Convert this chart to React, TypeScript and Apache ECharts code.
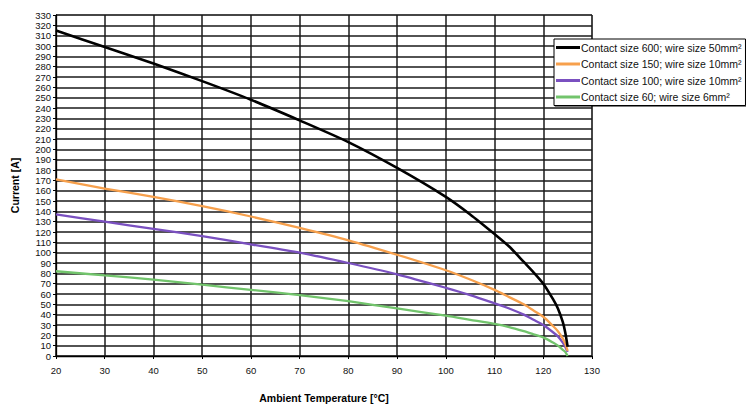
import React, { useEffect, useRef } from "react";
import * as echarts from "echarts";

const temps = [20, 30, 40, 50, 60, 70, 80, 90, 100, 105, 110, 113, 116, 118, 120, 122, 123, 124, 124.5, 125];
const size600 = [315, 299, 283, 266, 248, 228, 207, 182, 154, 137, 118, 106, 91, 81, 70, 55, 46, 33, 23, 9];
const size150 = [171, 162, 154, 145, 135, 124, 112, 98, 83, 74, 64, 57, 50, 44, 38, 29, 24, 17, 12, 5];
const size100 = [137, 130, 123, 116, 108, 100, 90, 79, 66, 59, 51, 46, 40, 35, 30, 23, 19, 13, 9, 4];
const size60 = [82, 78, 74, 69, 64, 59, 53, 46, 39, 35, 31, 28, 24, 21, 18, 13, 10, 6, 4, 0];

const seriesNames = [
  "Contact size 600; wire size 50mm²",
  "Contact size 150; wire size 10mm²",
  "Contact size 100; wire size 10mm²",
  "Contact size 60; wire size 6mm²",
];
const seriesColors = ["#000000", "#F7A04C", "#7A50C0", "#72C46C"];
const seriesWidths = [2.6, 2.3, 2.3, 2.3];
const seriesValues = [size600, size150, size100, size60];

export default function App() {
  const ref = useRef<HTMLDivElement>(null);
  useEffect(() => {
    document.body.style.margin = "0";
    const chart = echarts.init(ref.current!, null, { renderer: "svg" });
    const font = "Liberation Sans, Arial, sans-serif";
    chart.setOption({
      animation: false,
      backgroundColor: "#ffffff",
      grid: {
        left: 56,
        right: 154,
        top: 15,
        bottom: 44,
        show: true,
        borderColor: "#999999",
        borderWidth: 1,
      },
      legend: {
        orient: "vertical",
        left: 554,
        top: 39,
        padding: [3, 4, 3, 2],
        itemGap: 5.5,
        itemWidth: 24,
        itemHeight: 3,
        icon: "rect",
        backgroundColor: "#ffffff",
        borderColor: "#000000",
        borderWidth: 1,
        shadowColor: "rgba(0,0,0,0.5)",
        shadowOffsetX: 1,
        shadowOffsetY: 1,
        shadowBlur: 1,
        textStyle: { fontSize: 10.5, color: "#111", fontFamily: font, padding: [0, 0, 0, -4] },
        data: seriesNames,
      },
      xAxis: {
        type: "value",
        min: 20,
        max: 130,
        interval: 10,
        name: "Ambient Temperature [°C]",
        nameLocation: "middle",
        nameGap: 36,
        nameTextStyle: { fontSize: 10.5, fontWeight: "bold", color: "#000", fontFamily: font },
        axisLine: { show: true, lineStyle: { color: "#000", width: 1.3 } },
        axisTick: { show: true, length: 3, lineStyle: { color: "#000" } },
        axisLabel: { fontSize: 9.5, color: "#111", margin: 9, fontFamily: font },
        splitLine: { show: true, lineStyle: { color: "#1a1a1a", width: 1.5 } },
      },
      yAxis: {
        type: "value",
        min: 0,
        max: 330,
        interval: 10,
        name: "Current [A]",
        nameLocation: "middle",
        nameGap: 36,
        nameRotate: 90,
        nameTextStyle: { fontSize: 10.5, fontWeight: "bold", color: "#000", fontFamily: font },
        axisLine: { show: true, lineStyle: { color: "#000", width: 1.3 } },
        axisTick: { show: true, length: 3, lineStyle: { color: "#000" } },
        axisLabel: { fontSize: 9.5, color: "#111", margin: 5, fontFamily: font },
        splitLine: { show: true, lineStyle: { color: "#1a1a1a", width: 1.5 } },
      },
      series: seriesNames.map((name, i) => ({
        name,
        type: "line",
        smooth: 0.25,
        showSymbol: false,
        symbol: "none",
        color: seriesColors[i],
        lineStyle: { color: seriesColors[i], width: seriesWidths[i] },
        data: temps.map((t, j) => [t, seriesValues[i][j]]),
        z: 10 - i,
      })),
    });
    return () => chart.dispose();
  }, []);
  return <div ref={ref} style={{ position: "fixed", left: 0, top: 0, width: 746, height: 408 }} />;
}
